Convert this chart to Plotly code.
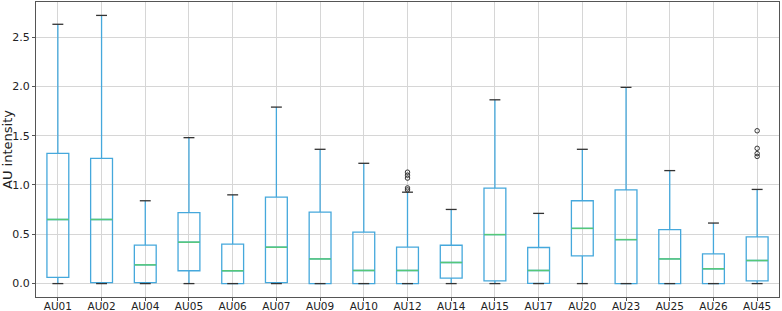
import plotly.graph_objects as go

categories = ["AU01", "AU02", "AU04", "AU05", "AU06", "AU07", "AU09", "AU10", "AU12",
              "AU14", "AU15", "AU17", "AU20", "AU23", "AU25", "AU26", "AU45"]
lower_whisker = [0, 0, 0, 0, 0, 0, 0, 0, 0, 0, 0, 0, 0, 0, 0, 0, 0]
q1 = [0.063, 0.01, 0.01, 0.13, 0.0, 0.01, 0.0, 0.0, 0.0, 0.056, 0.028, 0.003, 0.281, 0.0, 0.0, 0.0, 0.028]
median = [0.65, 0.65, 0.19, 0.42, 0.13, 0.369, 0.25, 0.133, 0.133, 0.214, 0.497, 0.133, 0.56, 0.446, 0.25, 0.15, 0.234]
q3 = [1.32, 1.27, 0.39, 0.72, 0.40, 0.877, 0.725, 0.523, 0.369, 0.389, 0.968, 0.366, 0.84, 0.951, 0.547, 0.301, 0.473]
upper_whisker = [2.63, 2.72, 0.84, 1.48, 0.90, 1.79, 1.362, 1.22, 0.927, 0.752, 1.864, 0.712, 1.362, 1.99, 1.146, 0.614, 0.955]
outlier_cat = ["AU12", "AU12", "AU12", "AU12", "AU12", "AU45", "AU45", "AU45", "AU45"]
outlier_val = [1.13, 1.10, 1.07, 0.97, 0.95, 1.55, 1.372, 1.318, 1.29]

BOX_W = 0.5
CAP_W = 0.25
box_color = "#45a8dc"
median_color = "#55c878"

pos = list(range(1, len(categories) + 1))

fig = go.Figure()
fig.add_trace(go.Box(
    x=pos, q1=q1, median=median, q3=q3,
    lowerfence=lower_whisker, upperfence=upper_whisker,
    width=BOX_W, whiskerwidth=0,
    line=dict(color=box_color, width=1.3),
    fillcolor="rgba(0,0,0,0)", boxpoints=False, showlegend=False,
    hoverinfo="skip",
))

# medians
mx, my = [], []
for p, m in zip(pos, median):
    mx += [p - BOX_W / 2, p + BOX_W / 2, None]
    my += [m, m, None]
fig.add_trace(go.Scatter(x=mx, y=my, mode="lines",
                         line=dict(color=median_color, width=1.5), showlegend=False, hoverinfo="skip"))

# caps
cx, cy = [], []
for p, lo, hi in zip(pos, lower_whisker, upper_whisker):
    cx += [p - CAP_W / 2, p + CAP_W / 2, None, p - CAP_W / 2, p + CAP_W / 2, None]
    cy += [lo, lo, None, hi, hi, None]
fig.add_trace(go.Scatter(x=cx, y=cy, mode="lines",
                         line=dict(color="#333333", width=1.3), showlegend=False, hoverinfo="skip"))

# outliers
ox = [categories.index(c) + 1 for c in outlier_cat]
fig.add_trace(go.Scatter(x=ox, y=outlier_val, mode="markers",
                         marker=dict(symbol="circle-open", size=4.5, color="#333333",
                                     line=dict(width=1, color="#333333")),
                         showlegend=False, hoverinfo="skip"))

fig.update_layout(
    width=782, height=311,
    margin=dict(l=36, r=3, t=2, b=14, autoexpand=False),
    paper_bgcolor="white", plot_bgcolor="white",
    font=dict(family="DejaVu Sans", size=11, color="#222222"),
)
fig.update_xaxes(
    range=[0.5, 17.5], tickmode="array", tickvals=pos, ticktext=categories,
    showgrid=True, gridcolor="#d6d6d6", gridwidth=1,
    showline=True, linecolor="#555555", linewidth=1, mirror=True,
    ticks="outside", ticklen=3, tickcolor="#555555", zeroline=False,
    automargin=False, tickfont=dict(size=10.5), ticklabelstandoff=-4,
)
fig.update_yaxes(
    range=[-0.136, 2.856], tickmode="array",
    tickvals=[0, 0.5, 1.0, 1.5, 2.0, 2.5], ticktext=["0.0", "0.5", "1.0", "1.5", "2.0", "2.5"],
    showgrid=True, gridcolor="#d6d6d6", gridwidth=1,
    showline=True, linecolor="#555555", linewidth=1, mirror=True,
    ticks="outside", ticklen=3, tickcolor="#555555", zeroline=False,
    automargin=False,
    title=dict(text="AU intensity", font=dict(size=13), standoff=0),
)

fig.write_html("out.html", config={"displayModeBar": False},
               post_script="document.body.style.margin='0';document.body.style.overflow='hidden';")
